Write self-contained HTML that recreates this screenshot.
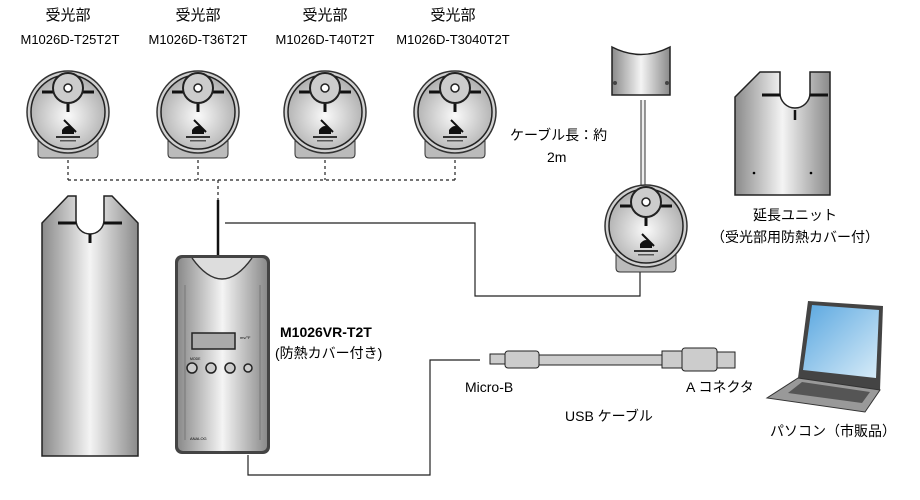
<!DOCTYPE html>
<html><head><meta charset="utf-8"><style>
html,body{margin:0;padding:0;background:#fff;}
svg{display:block}
text{font-family:"Liberation Sans","Noto Sans CJK JP",sans-serif;fill:#000;}
</style></head><body>
<svg width="920" height="500" viewBox="0 0 920 500" xmlns="http://www.w3.org/2000/svg">
<defs>
<linearGradient id="metal" x1="0" x2="1" y1="0" y2="0">
<stop offset="0" stop-color="#8a8a8a"/><stop offset="0.5" stop-color="#f4f4f4"/><stop offset="1" stop-color="#8a8a8a"/></linearGradient>
<radialGradient id="disc" cx="0.5" cy="0.55" r="0.6">
<stop offset="0" stop-color="#fafafa"/><stop offset="1" stop-color="#a8a8a8"/></radialGradient>
<linearGradient id="scr" x1="0" x2="1" y1="0" y2="1"><stop offset="0" stop-color="#5aa7e0"/><stop offset="1" stop-color="#d8ecf8"/></linearGradient>
<g id="sensor">
<path d="M-30 28 L-30 42 Q-30 46 -26 46 L26 46 Q30 46 30 42 L30 28 Z" fill="#bbb" stroke="#333"/>
<circle r="41" fill="#d0d0d0" stroke="#333" stroke-width="1.5"/>
<circle r="37" fill="url(#disc)" stroke="#222" stroke-width="1.5"/>
<line x1="-26" y1="-20" x2="26" y2="-20" stroke="#111" stroke-width="3"/>
<line x1="0" y1="-10" x2="0" y2="0" stroke="#111" stroke-width="3"/>
<circle cy="-24" r="15" fill="#ccc" stroke="#222" stroke-width="2"/>
<circle cy="-24" r="4" fill="#fff" stroke="#222" stroke-width="1.5"/>
<path d="M-6 18 q6 -8 12 0 v4 h-12z" fill="#111"/>
<line x1="-4" y1="8" x2="8" y2="20" stroke="#111" stroke-width="2"/>
<rect x="-12" y="24" width="24" height="2" fill="#333"/>
<rect x="-8" y="28" width="16" height="1.5" fill="#555"/>
</g>
<g id="cover">
<path d="M0 27 L26 0 L34 0 L34 24 A14 14 0 0 0 62 24 L62 0 L70 0 L96 27 L96 260 L0 260 Z" fill="url(#metal)" stroke="#222" stroke-width="1.5"/>
<line x1="16" y1="27" x2="34" y2="27" stroke="#111" stroke-width="3"/>
<line x1="62" y1="27" x2="80" y2="27" stroke="#111" stroke-width="3"/>
<line x1="48" y1="38" x2="48" y2="47" stroke="#111" stroke-width="3"/>
</g>
</defs>

<g font-size="13" text-anchor="middle">
<text x="68" y="20" font-size="15">受光部</text><text x="70" y="44">M1026D-T25T2T</text>
<text x="198" y="20" font-size="15">受光部</text><text x="198" y="44">M1026D-T36T2T</text>
<text x="325" y="20" font-size="15">受光部</text><text x="325" y="44">M1026D-T40T2T</text>
<text x="453" y="20" font-size="15">受光部</text><text x="453" y="44">M1026D-T3040T2T</text>
</g>

<g stroke="#222" stroke-width="1.2" stroke-dasharray="3,3" fill="none">
<path d="M68 160 V180 M198 160 V180 M325 160 V180 M455 160 V180 M68 180 H455 M218 180 V200"/>
</g>
<line x1="218" y1="200" x2="218" y2="256" stroke="#111" stroke-width="2.5"/>

<use href="#sensor" x="68" y="112"/>
<use href="#sensor" x="198" y="112"/>
<use href="#sensor" x="325" y="112"/>
<use href="#sensor" x="455" y="112"/>

<use href="#cover" x="42" y="196"/>

<rect x="175" y="255" width="95" height="199" rx="7" fill="#444"/>
<rect x="178" y="258" width="89" height="193" rx="5" fill="url(#metal)"/>
<path d="M192 258 Q222 300 252 258" fill="#ddd" stroke="#333" stroke-width="1.5"/>
<line x1="185" y1="285" x2="185" y2="440" stroke="#777"/>
<line x1="260" y1="285" x2="260" y2="440" stroke="#777"/>
<rect x="192" y="333" width="43" height="16" fill="#aaa" stroke="#222" stroke-width="1.5"/>
<g fill="#ccc" stroke="#222" stroke-width="1.5">
<circle cx="192" cy="368" r="5"/><circle cx="211" cy="368" r="5"/><circle cx="230" cy="368" r="5"/><circle cx="248" cy="368" r="4"/></g>
<text x="240" y="339" font-size="4">mv/°F</text>
<text x="190" y="360" font-size="3.5">MODE</text>
<text x="190" y="440" font-size="4">ANALOG</text>

<text x="280" y="337" font-size="14" font-weight="bold">M1026VR-T2T</text>
<text x="275" y="358" font-size="14">(防熱カバー付き)</text>

<path d="M225 223 H475 V296 H640 V268" fill="none" stroke="#222" stroke-width="1.2"/>

<line x1="643" y1="100" x2="643" y2="188" stroke="#333" stroke-width="5"/>
<line x1="643" y1="100" x2="643" y2="188" stroke="#eee" stroke-width="3"/>
<path d="M612 47 Q641 62 670 47 L670 95 L612 95 Z" fill="url(#metal)" stroke="#222" stroke-width="1.5"/>
<circle cx="615" cy="83" r="2" fill="#444"/><circle cx="667" cy="83" r="2" fill="#444"/>
<use href="#sensor" x="646" y="226"/>
<text x="510" y="140" font-size="14">ケーブル長：約</text>
<text x="547" y="162" font-size="14">2m</text>

<path d="M735 97 L760 72 L780 72 L780 93 A15 15 0 0 0 810 93 L810 72 L830 72 L830 97 L830 195 L735 195 Z" fill="url(#metal)" stroke="#222" stroke-width="1.5"/>
<line x1="762" y1="95" x2="780" y2="95" stroke="#111" stroke-width="3"/>
<line x1="810" y1="95" x2="828" y2="95" stroke="#111" stroke-width="3"/>
<line x1="795" y1="110" x2="795" y2="120" stroke="#111" stroke-width="2.5"/>
<circle cx="754" cy="173" r="1.3" fill="#000"/><circle cx="811" cy="173" r="1.3" fill="#000"/>
<text x="795" y="220" font-size="14" text-anchor="middle">延長ユニット</text>
<text x="795" y="242" font-size="14" text-anchor="middle">（受光部用防熱カバー付）</text>

<path d="M248 455 V475 H430 V360 H480" fill="none" stroke="#222" stroke-width="1.2"/>
<rect x="490" y="354" width="15" height="10" fill="#ccc" stroke="#222"/>
<rect x="505" y="351" width="34" height="17" rx="3" fill="#ccc" stroke="#222"/>
<rect x="539" y="355" width="125" height="10" fill="#ccc" stroke="#222"/>
<rect x="662" y="351" width="22" height="17" fill="#ccc" stroke="#222"/>
<rect x="682" y="348" width="35" height="23" rx="3" fill="#ccc" stroke="#222"/>
<rect x="717" y="352" width="18" height="16" fill="#ccc" stroke="#222"/>
<text x="465" y="392" font-size="14">Micro-B</text>
<text x="686" y="392" font-size="14">A コネクタ</text>
<text x="565" y="421" font-size="14">USB ケーブル</text>

<path d="M808 301 L883 306 L880 390 L798 378 Z" fill="#444"/>
<path d="M812 305 L879 310 L876 378 L803 370 Z" fill="url(#scr)"/>
<path d="M798 378 L880 390 L865 412 L767 398 Z" fill="#999" stroke="#333"/>
<path d="M802 382 L870 392 L862 403 L788 393 Z" fill="#555"/>
<text x="770" y="436" font-size="14">パソコン（市販品）</text>
</svg>
</body></html>
